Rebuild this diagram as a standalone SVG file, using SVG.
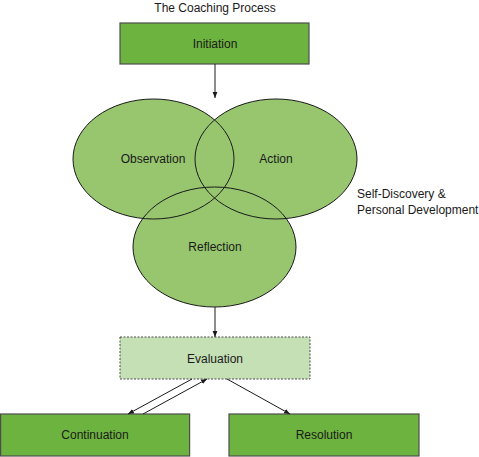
<svg xmlns="http://www.w3.org/2000/svg" width="479" height="457" viewBox="0 0 479 457">
<defs>
<style>
text{font-family:"Liberation Sans",Arial,sans-serif;font-size:12px;fill:#1a1a1a}
.c{text-anchor:middle}
.box{fill:#6db33f;stroke:#4d4d4d;stroke-width:1.2}
.eval{fill:#c5e0b4;stroke:#4d4d4d;stroke-width:1;stroke-dasharray:2 1.5}
.ell{fill:#97c66f;stroke:none}
.outline{fill:none;stroke:#1a1a1a;stroke-width:1}
.conn{stroke:#1a1a1a;stroke-width:1;fill:none;marker-end:url(#ah)}
</style>
<marker id="ah" viewBox="0 0 10 10" refX="10" refY="5" markerWidth="6" markerHeight="6" orient="auto" markerUnits="userSpaceOnUse">
<path d="M0,1 L10,5 L0,9 z" fill="#1a1a1a"/>
</marker>
</defs>
<rect width="479" height="457" fill="#ffffff"/>
<text class="c" x="215" y="12">The Coaching Process</text>
<g id="initiation">
<rect class="box" x="120" y="23" width="189" height="41"/>
<text class="c" x="215" y="48">Initiation</text>
</g>
<g id="observation">
<ellipse class="ell" cx="153.5" cy="159" rx="80.5" ry="60"/>
</g>
<g id="action">
<ellipse class="ell" cx="276" cy="159" rx="81" ry="60"/>
</g>
<g id="reflection">
<ellipse class="ell" cx="214.5" cy="247" rx="81.5" ry="60"/>
</g>
<g id="outlines">
<ellipse class="outline" cx="153.5" cy="159" rx="80.5" ry="60"/>
<ellipse class="outline" cx="276" cy="159" rx="81" ry="60"/>
<ellipse class="outline" cx="214.5" cy="247" rx="81.5" ry="60"/>
</g>
<g id="labels">
<text class="c" x="153" y="163">Observation</text>
<text class="c" x="276" y="163">Action</text>
<text class="c" x="215" y="251">Reflection</text>
</g>
<g id="self-discovery">
<text x="357" y="198">Self-Discovery &amp;</text>
<text x="357" y="214">Personal Development</text>
</g>
<g id="evaluation">
<rect class="eval" x="120" y="337" width="190" height="42"/>
<text class="c" x="215" y="363">Evaluation</text>
</g>
<g id="continuation">
<rect class="box" x="0.6" y="414" width="189" height="42"/>
<text class="c" x="95" y="439">Continuation</text>
</g>
<g id="resolution">
<rect class="box" x="229" y="414" width="190" height="42"/>
<text class="c" x="324" y="439">Resolution</text>
</g>
<g id="connectors">
<line class="conn" x1="215" y1="64" x2="215" y2="98"/>
<line class="conn" x1="215" y1="307" x2="215" y2="337"/>
<line class="conn" x1="192" y1="379" x2="128" y2="414"/>
<line class="conn" x1="143" y1="414" x2="207" y2="379"/>
<line class="conn" x1="227" y1="379" x2="290" y2="414"/>
</g>
</svg>
